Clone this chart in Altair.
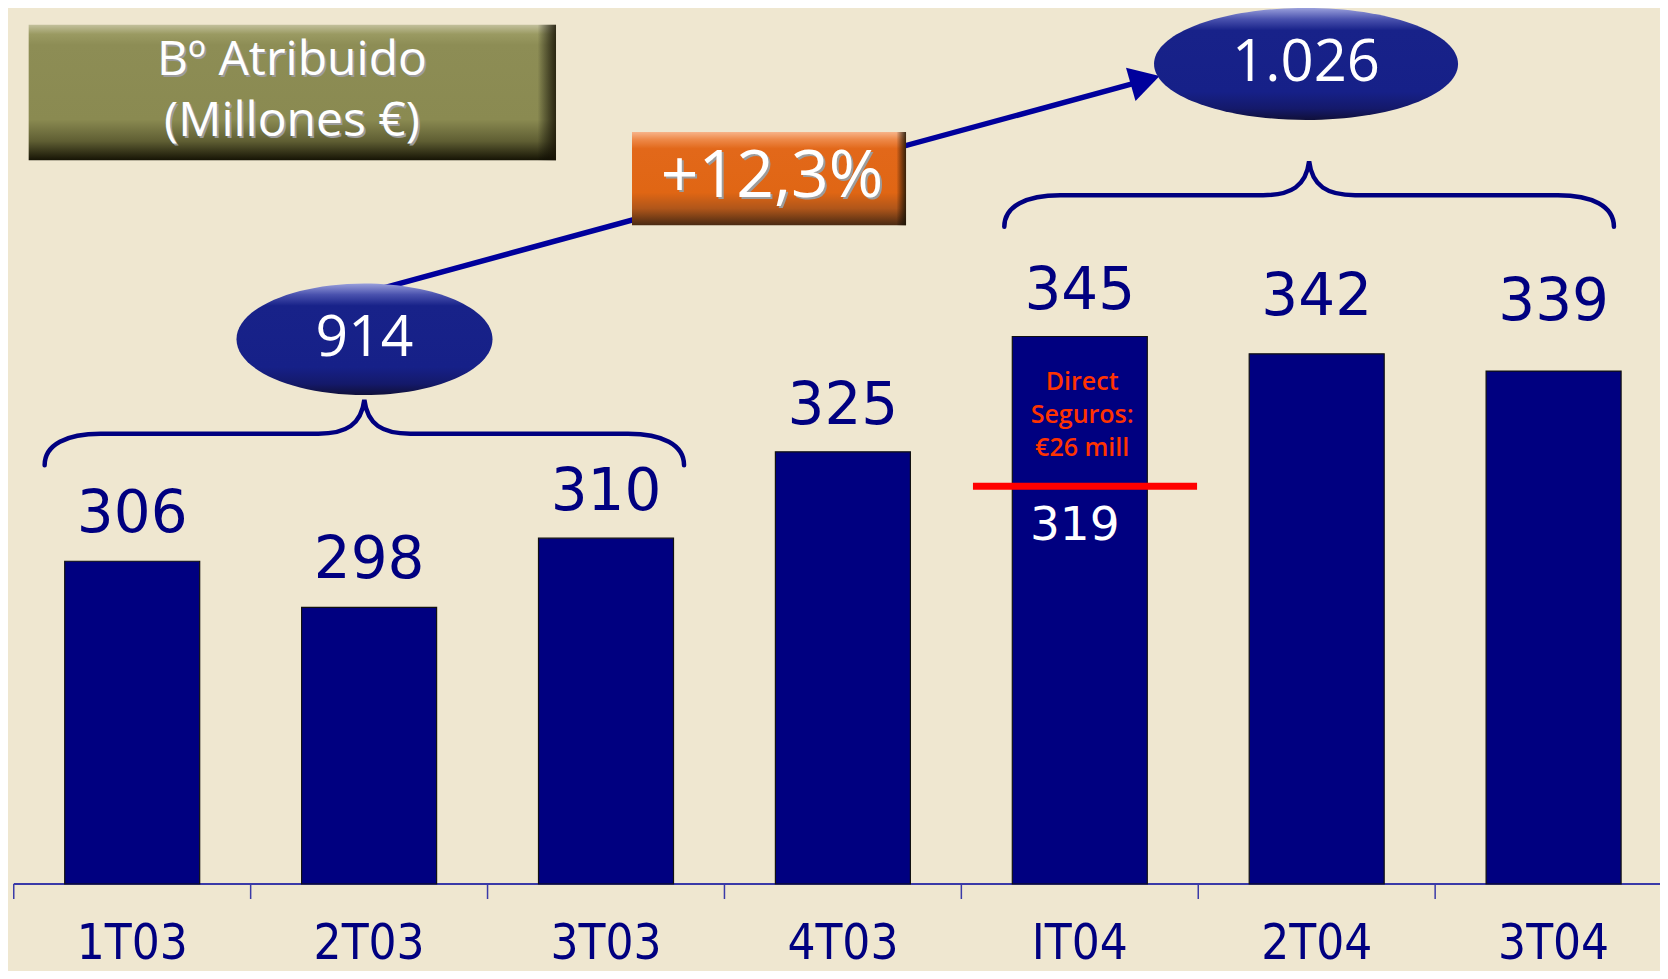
import altair as alt
import pandas as pd

# ---------------- data ----------------
quarters = ["1T03", "2T03", "3T03", "4T03", "IT04", "2T04", "3T04"]
beneficio = [306, 298, 310, 325, 345, 342, 339]
direct_seguros = 26            # part of IT04 result
label_gap_px = [29, 29, 28, 28, 28, 39, 51]   # style: lift of value labels above bar tops

total_03 = sum(beneficio[:3])
total_04 = sum(beneficio[4:])
growth = (total_04 / total_03 - 1) * 100
total_03_txt = f"{total_03:,}".replace(",", ".")
total_04_txt = f"{total_04:,}".replace(",", ".")
growth_txt = "+" + f"{growth:.1f}".replace(".", ",") + "%"
it04_ex = beneficio[4] - direct_seguros
title_lines = ["Bº Atribuido", "(Millones €)"]

# ---------------- geometry / styles ----------------
W, H = 1652, 963
PX_X, X_IDX0 = 236.9, 124.2
PX_Y, BASE, BASE_PX = 5.763, 250, 876
xmin, xmax = -X_IDX0 / PX_X, (W - X_IDX0) / PX_X
ymin, ymax = BASE - (H - BASE_PX) / PX_Y, BASE + BASE_PX / PX_Y

BG = "#efe7d0"
NAVY = "#000080"
AXIS = "#3a3aa8"
ARROW = "#00009c"

xs = alt.Scale(domain=[xmin, xmax], nice=False, zero=False, padding=0)
ys = alt.Scale(domain=[ymin, ymax], nice=False, zero=False, padding=0)


def X(f):
    return alt.X(f, type="quantitative", scale=xs, axis=None)


def Y(f):
    return alt.Y(f, type="quantitative", scale=ys, axis=None)


def xd(v):
    return alt.XDatum(v, type="quantitative", scale=xs, axis=None)


def yd(v):
    return alt.YDatum(v, type="quantitative", scale=ys, axis=None)


def grad(stops, horizontal=False):
    return alt.LinearGradient(
        gradient="linear",
        stops=[alt.GradientStop(offset=o, color=c) for o, c in stops],
        x1=0, y1=0, x2=1 if horizontal else 0, y2=0 if horizontal else 1)


def ellipse_path(rx, ry):
    r, k = ry / rx, 0.5523
    return (f"M -1 0 C -1 {-k*r:.4f} {-k} {-r:.4f} 0 {-r:.4f} "
            f"C {k} {-r:.4f} 1 {-k*r:.4f} 1 0 "
            f"C 1 {k*r:.4f} {k} {r:.4f} 0 {r:.4f} "
            f"C {-k} {r:.4f} -1 {k*r:.4f} -1 0 Z")


def brace_path(hw):
    s = 1.0 / hw

    def p(x, y):
        return f"{x*s:.4f} {y*s:.4f}"
    e, lv, tp = 32.7, 1.2, -32.7
    return (f"M {p(-hw, e)} C {p(-hw, 12)} {p(-hw+22, lv)} {p(-hw+56, lv)} "
            f"L {p(-46, lv)} C {p(-18, lv)} {p(-3, -8)} {p(0, tp)} "
            f"C {p(3, -8)} {p(18, lv)} {p(46, lv)} "
            f"L {p(hw-56, lv)} C {p(hw-22, lv)} {p(hw, 12)} {p(hw, e)}")


ELL_GRAD = grad([(0, "#9aa0dc"), (0.1, "#4a52ae"), (0.2, "#182289"),
                 (0.75, "#162088"), (0.9, "#14196a"), (1, "#10103a")])
OLIVE_GRAD = grad([(0, "#c2c09c"), (0.07, "#9a9a62"), (0.15, "#8d8d55"),
                   (0.7, "#8a8a51"), (0.86, "#5f5e33"), (1, "#161405")])
ORANGE_GRAD = grad([(0, "#f7b48a"), (0.08, "#ee8a4a"), (0.18, "#e2681a"),
                    (0.65, "#e06614"), (0.82, "#b0561a"), (1, "#4a2a12")])
EDGE_GRAD = grad([(0, "rgba(0,0,0,0)"), (0.965, "rgba(0,0,0,0)"),
                  (1, "rgba(25,20,5,0.85)")], horizontal=True)

df = pd.DataFrame({"q": quarters, "v": beneficio,
                   "idx": list(range(len(quarters))), "gap": label_gap_px})
one = pd.DataFrame({"_": [0]})
base = alt.Chart(df)
single = alt.Chart(one)

layers = []

# axis line and ticks
layers.append(single.mark_rule(color=AXIS, strokeWidth=2).encode(
    x=xd(-0.5), x2=alt.X2Datum(xmax), y=yd(BASE)))
layers.append(base.transform_calculate(xt="datum.idx - 0.5").mark_rule(
    color=AXIS, strokeWidth=1.5).encode(
    x=X("xt"), y=yd(BASE), y2=alt.Y2Datum(BASE - 15 / PX_Y)))

# bars
layers.append(base.mark_bar(size=135, color=NAVY, stroke="#111111",
                            strokeWidth=1.2).encode(
    x=X("idx"), y=Y("v"), y2=alt.Y2Datum(BASE)))

# red line at result excluding Direct Seguros
layers.append(single.mark_rule(color="#ff0000", strokeWidth=7).encode(
    x=xd(3.549), x2=alt.X2Datum(4.495), y=yd(it04_ex)))

# annotation inside IT04 bar
layers.append(single.mark_text(
    text=["Direct", "Seguros:", f"€{direct_seguros} mill"], font="Open Sans",
    fontWeight=600, fontSize=25, color="#ff3300", align="center",
    baseline="alphabetic", lineHeight=33).encode(
    x=xd(4.01), y=yd(BASE + (884 - 389.5) / PX_Y)))
layers.append(single.mark_text(
    text=str(it04_ex), font="DejaVu Sans", fontSize=47, color="white",
    align="center", baseline="alphabetic", dx=-5).encode(
    x=xd(4), y=yd(BASE + (884 - 540) / PX_Y)))

# value labels
layers.append(base.transform_calculate(ly=f"datum.v + datum.gap / {PX_Y}")
              .mark_text(font="DejaVu Sans", fontSize=58, color=NAVY,
                         align="center", baseline="alphabetic").encode(
    x=X("idx"), y=Y("ly"), text="v:N"))

# category labels
layers.append(base.mark_text(
    font="DejaVu Sans Condensed, Liberation Sans Narrow, Open Sans",
    fontSize=49, color=NAVY, align="center", baseline="alphabetic").encode(
    x=X("idx"), y=yd(BASE - (951 - BASE_PX) / PX_Y), text="q:N"))

# braces
for cx, cy, hw in [(0.9799, 328.35, 319.7), (4.968, 369.73, 304.8)]:
    layers.append(single.mark_point(
        shape=brace_path(hw), size=(2 * hw) ** 2, filled=False,
        stroke=NAVY, strokeWidth=4.5, opacity=1, strokeCap="round").encode(
        x=xd(cx), y=yd(cy)))

# growth arrow
layers.append(single.mark_rule(color=ARROW, strokeWidth=5.5).encode(
    x=xd(1.046), y=yd(353.28), x2=alt.X2Datum(4.2245), y2=alt.Y2Datum(388.87)))
layers.append(single.mark_point(
    shape="M 1 0 L -1 -1.15 L -1 1.15 Z", size=900, angle=344, filled=True,
    fill=ARROW, strokeWidth=0, opacity=1).encode(x=xd(4.276), y=yd(389.48)))

# ellipses with totals
for cx, cy, rx, ry, txt, fs, bl in [
        (0.9806, 344.53, 128, 55.8, total_03_txt, 57, 341.6),
        (4.955, 392.3, 152, 56, total_04_txt, 58, 389.3)]:
    layers.append(single.mark_point(
        shape=ellipse_path(rx, ry), size=(2 * rx) ** 2, filled=True,
        fill=ELL_GRAD, strokeWidth=0, opacity=1).encode(x=xd(cx), y=yd(cy)))
    layers.append(single.mark_text(
        text=txt, font="Open Sans", fontSize=fs, color="white",
        align="center", baseline="alphabetic").encode(x=xd(cx), y=yd(bl)))

# boxes
def box(x0, x1, y0, y1, g):
    out = []
    for fill in (g, EDGE_GRAD):
        out.append(single.mark_rect(fill=fill).encode(
            x=xd(x0), x2=alt.X2Datum(x1), y=yd(y0), y2=alt.Y2Datum(y1)))
    return out


def shadow_text(txt, x, y, fs, lh=None):
    res = []
    extra = {} if lh is None else {"lineHeight": lh}
    for col, off in (("#9c9c9c", 2), ("white", 0)):
        res.append(single.mark_text(
            text=txt, font="Open Sans", fontSize=fs, color=col, align="center",
            baseline="alphabetic", dx=off, dy=off, **extra).encode(
            x=xd(x), y=yd(y)))
    return res


layers += box(2.1098, 3.2665, 364.3, 380.5, ORANGE_GRAD)
layers += shadow_text(growth_txt, 2.701, 369.25, 66)
layers += box(-0.437, 1.789, 375.6, 399.1, OLIVE_GRAD)
layers += shadow_text(title_lines, 0.6745, 390.4, 48, lh=61)

chart = alt.layer(*layers).properties(
    width=W, height=H, padding=0,
    autosize=alt.AutoSizeParams(type="none"), background=BG,
).configure_view(strokeWidth=0)

chart.save("out.html", embed_options={"renderer": "svg", "actions": False})
